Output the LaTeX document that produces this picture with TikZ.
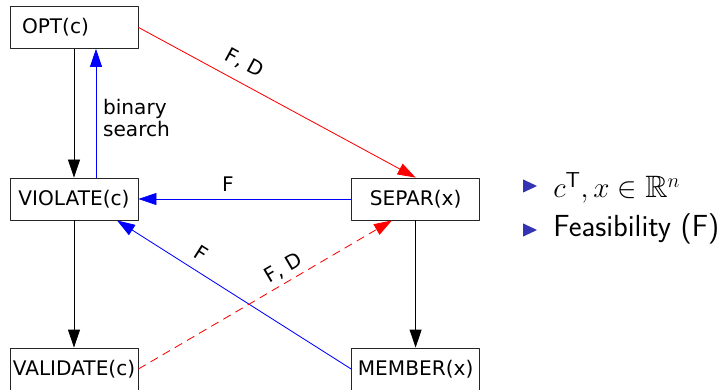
\documentclass[tikz,border=0pt]{standalone}
\usepackage{fontspec}
\usepackage{amssymb}
\newfontfamily\boxfont{DejaVu Sans}
\usetikzlibrary{arrows.meta}
\definecolor{itemblue}{RGB}{51,51,179}

\begin{document}
\begin{tikzpicture}[line join=round,
    box/.style={draw=black!85, line width=0.6pt, minimum width=3.2cm,
      minimum height=1.05cm, inner sep=1pt, font=\boxfont\fontsize{14.3}{17}\selectfont},
    lab/.style={font=\boxfont\fontsize{14.3}{15.5}\selectfont, inner sep=2pt, text=black},
    tip/.style={-{Triangle[length=0.45cm,width=0.3cm]}, line width=0.6pt}]
    \useasboundingbox (0,0) rectangle (18.075,9.725);

    % Orakel (linke Spalte: Zielfunktion, rechte Spalte: Punkt)
    \node[box, text width=2.6cm, inner xsep=0.3cm, align=left] (OPT) at (1.85,9.04) {OPT(c)};
    \node[box] (VIOL) at (1.85,4.75) {VIOLATE(c)};
    \node[box] (VALID) at (1.85,0.5) {VALIDATE(c)};
    \node[box] (SEPAR) at (10.39,4.75) {SEPAR(x)};
    \node[box] (MEMB) at (10.39,0.5) {MEMBER(x)};

    % triviale Reduktionen
    \draw[tip] (OPT.south) -- (VIOL.north);
    \draw[tip] (VIOL.south) -- (VALID.north);
    \draw[tip] (SEPAR.south) -- (MEMB.north);

    % binaere Suche
    \draw[tip, blue] ([xshift=0.55cm]VIOL.north) -- ([xshift=0.55cm]OPT.south);
    \node[lab, align=left, anchor=west] (bin) at (2.5,6.78) {binary\\search};

    % Reduktionen mit Ellipsoidmethode
    \draw[tip, red] (OPT.east) -- node[lab, sloped, above=5pt, pos=0.35] (fd1) {F, D} (SEPAR.north);
    \draw[tip, blue] (SEPAR.west) -- node[lab, above=3pt, pos=0.58] (f1) {F} (VIOL.east);
    \draw[tip, blue] (MEMB.west) -- node[lab, sloped, above=5pt, pos=0.68] (f2) {F} ([xshift=1.075cm]VIOL.south);
    \draw[tip, red, dash pattern=on 6pt off 4pt] (VALID.east) -- node[lab, sloped, above=1pt, pos=0.6] (fd2) {F, D} ([xshift=-0.59cm]SEPAR.south);

    % Aufzaehlung rechts
    \fill[itemblue] (13.075,5.24) -- ++(0.35,-0.165) -- ++(-0.35,-0.165) -- cycle;
    \fill[itemblue] (13.075,4.14) -- ++(0.35,-0.165) -- ++(-0.35,-0.165) -- cycle;
    \node[anchor=base west, inner sep=0pt, font=\fontsize{22}{26}\selectfont] (item1) at (13.825,4.775)
      {$c^{\mathsf{T}}, x \in \mathbb{R}^n$};
    \node[anchor=base west, inner sep=0pt, font=\sffamily\fontsize{21.7}{26}\selectfont] (item2) at (13.825,3.8)
      {Feasibility (F)};
\end{tikzpicture}
\end{document}
